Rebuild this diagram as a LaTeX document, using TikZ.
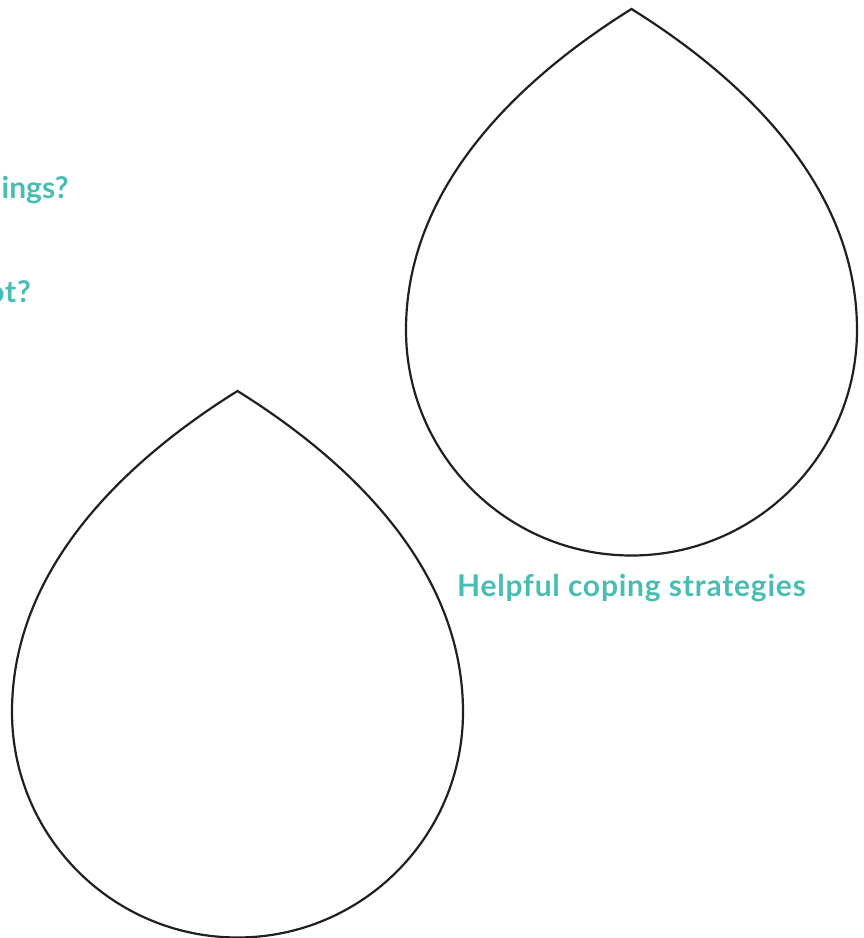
\documentclass[tikz,border=0pt]{standalone}
\usepackage{fontspec}
\setmainfont{Lato}
\definecolor{teal1}{RGB}{72,190,178}
\definecolor{ink}{RGB}{35,31,32}
\begin{document}
\begin{tikzpicture}[x=1pt,y=-1pt,
  drop/.style={draw=ink,line width=2.2pt,line join=miter},
  lbl/.style={text=teal1,font=\fontsize{30}{36}\selectfont\bfseries\addfontfeatures{LetterSpace=2.6},inner sep=0pt},
  tight/.style={font=\fontsize{30}{36}\selectfont\bfseries}]
\useasboundingbox (0,0) rectangle (864,938);
\clip (0,0) rectangle (864,938);
% top-right drop
\draw[drop] (631.5,9) .. controls (529.5,72.6) and (406,180) .. (406,330)
  arc[start angle=180,end angle=0,radius=225.5]
  .. controls (857,180) and (733.5,72.6) .. cycle;
% bottom-left drop
\draw[drop] (237.5,391) .. controls (135.5,454.6) and (12,562) .. (12,712)
  arc[start angle=180,end angle=0,radius=225.5]
  .. controls (463,562) and (339.5,454.6) .. cycle;
\node[lbl,anchor=base west] (heading) at (457,596) {Helpful coping strategies};
\node[lbl,tight,anchor=base west] (q1) at (1.5,198) {ings?};
\node[lbl,anchor=base east] (q2) at (31,302) {ot?};
\end{tikzpicture}
\end{document}
